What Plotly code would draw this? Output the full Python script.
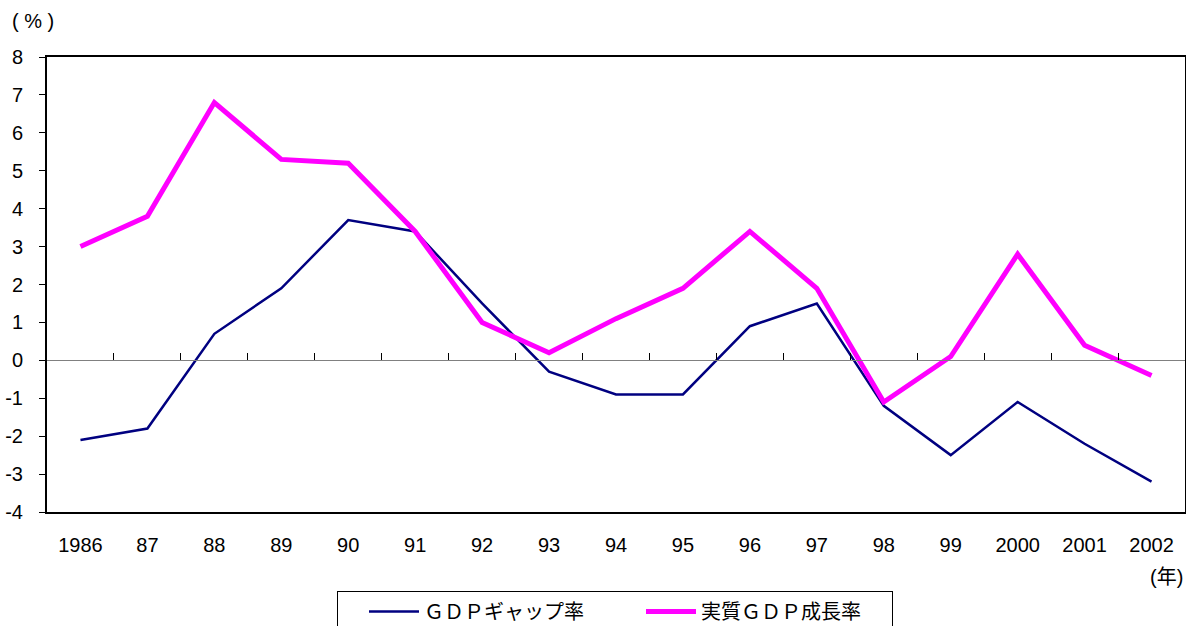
import plotly.graph_objects as go

# years on the category axis
years = ["1986", "87", "88", "89", "90", "91", "92", "93", "94", "95",
         "96", "97", "98", "99", "2000", "2001", "2002"]

# GDP gap rate (%)
gdp_gap = [-2.1, -1.8, 0.7, 1.9, 3.7, 3.4, 1.5, -0.3, -0.9, -0.9,
           0.9, 1.5, -1.2, -2.5, -1.1, -2.2, -3.2]

# real GDP growth rate (%)
real_gdp_growth = [3.0, 3.8, 6.8, 5.3, 5.2, 3.4, 1.0, 0.2, 1.1, 1.9,
                   3.4, 1.9, -1.1, 0.1, 2.8, 0.4, -0.4]

# y tick labels with a plain hyphen, as in the original
y_ticks = [-4, -3, -2, -1, 0, 1, 2, 3, 4, 5, 6, 7, 8]
y_tick_labels = ["-4", "-3", "-2", "-1", "0", "1", "2", "3", "4", "5", "6", "7", "8"]

FONT = "Liberation Sans, Noto Sans CJK JP, sans-serif"

fig = go.Figure()
fig.add_trace(go.Scatter(x=years, y=gdp_gap, mode="lines", name="ＧＤＰギャップ率",
                         line=dict(color="#000080", width=2.5)))
fig.add_trace(go.Scatter(x=years, y=real_gdp_growth, mode="lines", name="実質ＧＤＰ成長率",
                         line=dict(color="#FF00FF", width=5)))

# invisible trace so the zero-line axis gets drawn
fig.add_trace(go.Scatter(x=[0], y=[0], xaxis="x2", mode="markers",
                         marker=dict(opacity=0), showlegend=False, hoverinfo="skip"))

fig.update_layout(
    width=1186, height=626,
    margin=dict(l=47, r=1, t=57, b=114, autoexpand=False),
    plot_bgcolor="white", paper_bgcolor="white",
    font=dict(family=FONT, size=20, color="black"),
    xaxis=dict(type="category", range=[-0.5, 16.5], showgrid=False, zeroline=False,
               showline=True, linecolor="black", linewidth=2, mirror=True,
               ticks="", ticklabelstandoff=14, automargin=False, tickfont=dict(size=20)),
    xaxis2=dict(overlaying="x", anchor="free", position=4 / 12, range=[-0.5, 16.5],
                showgrid=False, zeroline=False, showline=True, linecolor="#808080",
                linewidth=1, ticks="inside", ticklen=7, tickcolor="black", tickwidth=1,
                tickvals=[i + 0.5 for i in range(16)], showticklabels=False,
                automargin=False),
    yaxis=dict(range=[-4, 8], tickvals=y_ticks, ticktext=y_tick_labels,
               showgrid=False, zeroline=False,
               showline=True, linecolor="black", linewidth=2, mirror=True,
               ticks="outside", ticklen=6, tickcolor="black", ticklabelstandoff=12,
               automargin=False, tickfont=dict(size=20)),
    legend=dict(orientation="h", xref="container", yref="container",
                x=337 / 1186, y=1 - 591 / 626, xanchor="left", yanchor="top",
                bordercolor="black", borderwidth=1, itemwidth=50, indentation=26,
                entrywidth=186, font=dict(size=20)),
    annotations=[
        dict(text="( % )", x=-0.012, y=1.08, xref="paper", yref="paper",
             showarrow=False, font=dict(size=20), xanchor="center", yanchor="middle"),
        dict(text="(年)", x=1.0, y=-0.143, xref="paper", yref="paper",
             showarrow=False, font=dict(size=20), xanchor="right", yanchor="middle"),
    ],
)

# drop the default page margin so the figure sits at the window's corner
fig.write_html("out.html", config={"displayModeBar": False},
               post_script="document.body.style.margin='0';")
